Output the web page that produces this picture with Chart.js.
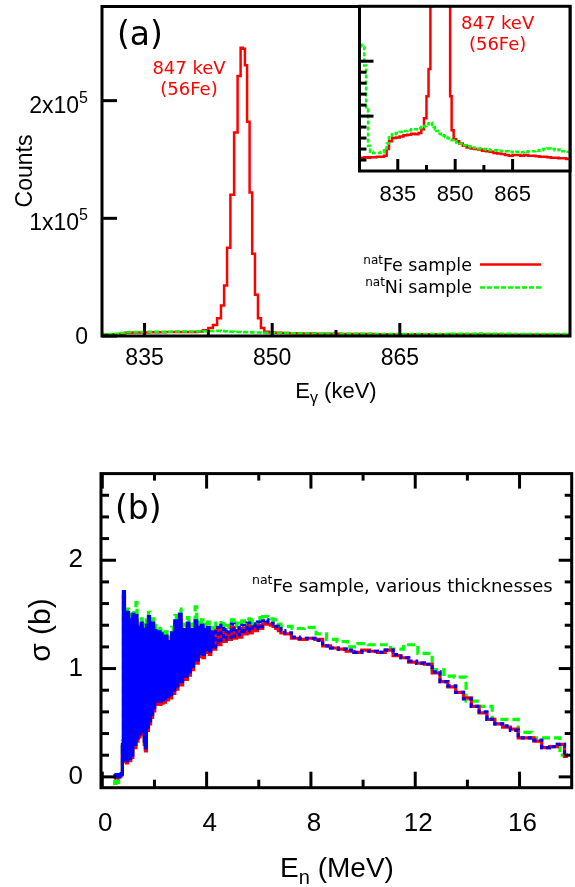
<!DOCTYPE html>
<html>
<head>
<meta charset="utf-8">
<script src="https://cdn.jsdelivr.net/npm/chart.js@4.4.1/dist/chart.umd.min.js"></script>
<style>
  html, body { margin: 0; padding: 0; background: #fff; }
  #wrap { position: relative; width: 575px; height: 887px; overflow: hidden; background: #fff; }
  canvas { position: absolute; }
  #specChart { left: 0; top: 0; }
  #insetChart { left: 340px; top: 0; }
  #xsChart { left: 0; top: 440px; }
</style>
</head>
<body>
<div id="wrap">
  <canvas id="specChart" width="575" height="430"></canvas>
  <canvas id="insetChart" width="235" height="215"></canvas>
  <canvas id="xsChart" width="575" height="447"></canvas>
</div>
<script>
//-------------
//- PANEL (a): gamma spectrum, counts per bin -
//-------------
var gammaEnergy = [
  825.1, 826.0, 826.5, 827.0, 827.5, 828.0, 829.0, 830.0, 831.0, 831.8,
  832.4, 833.0, 834.0, 835.0, 836.0, 837.0, 838.0, 839.0, 840.0, 840.8,
  841.5, 842.2, 842.8, 843.27, 843.78, 844.18, 844.52, 844.87, 845.31, 845.74,
  846.13, 846.45, 846.68, 846.91, 847.19, 847.50, 847.80, 848.15, 848.51, 848.85,
  849.3, 849.9, 850.6, 851.5, 852.5, 853.5, 854.5, 855.5, 856.5, 857.5,
  858.5, 859.5, 860.5, 861.5, 862.5, 863.5, 864.5, 865.5, 866.5, 867.5,
  868.5, 869.5, 870.5, 871.5, 872.5, 873.5, 874.5, 875.5, 876.5, 877.5,
  878.5, 879.5, 880.5, 881.5, 882.5, 883.5, 884.5, 885.5
];
var feCounts = [
  1150, 1200, 1250, 1250, 1200, 1250, 1250, 1300, 1300, 1400,
  2000, 2700, 3000, 3050, 3150, 3250, 3300, 3400, 3350, 3450,
  3800, 4800, 6800, 9300, 15000, 26000, 43000, 75000, 120000, 173000,
  221000, 245000, 244000, 230000, 182000, 122000, 70000, 35000, 15000, 6800,
  3700, 2900, 2700, 2500, 2300, 2150, 2050, 2000, 1950, 1850,
  1800, 1750, 1650, 1600, 1550, 1450, 1400, 1450, 1450, 1400,
  1450, 1400, 1400, 1350, 1300, 1300, 1250, 1200, 1200, 1150,
  1150, 1100, 1100, 1100, 1050, 1050, 1050, 1050
];
var niCounts = [
  11500, 11300, 9600, 5600, 2300, 1750, 1650, 1650, 1700, 1900,
  2500, 3200, 3350, 3450, 3550, 3650, 3700, 3800, 3800, 3900,
  4000, 4100, 4250, 4350, 4400, 4200, 4000, 3800, 3650, 3500,
  3400, 3350, 3300, 3250, 3200, 3100, 3050, 3000, 2950, 2850,
  2800, 2700, 2600, 2500, 2350, 2250, 2150, 2100, 2050, 2000,
  1950, 1900, 1900, 1850, 1800, 1800, 1750, 1700, 1750, 1700,
  1750, 1800, 1800, 1850, 1900, 2000, 2050, 2000, 1900, 1950,
  1800, 1750, 1700, 1700, 1650, 1650, 1600, 1600
];
var gammaMajor = [835, 850, 865];
var gammaMinor = [842.5, 857.5];
var countTicks = [0, 100000, 200000];
var countLabels = [['0', ''], ['1x10', '5'], ['2x10', '5']];
var insetMajor = [5000, 10000];
var insetMinor = [1000, 2000, 3000, 4000, 6000, 7000, 8000, 9000];

//-------------
//- PANEL (b): cross section, three thicknesses -
//-------------
var enFine = [
  0.45, 0.50, 0.55, 0.60, 0.65, 0.70, 0.75,
  0.79, 0.83, 0.87, 0.91, 0.95, 0.99, 1.03, 1.07, 1.11, 1.15,
  1.19, 1.23, 1.27, 1.31, 1.35, 1.39, 1.43, 1.47, 1.51, 1.55,
  1.59, 1.63, 1.67, 1.71, 1.75, 1.79, 1.83, 1.87, 1.91, 1.95,
  1.99, 2.03, 2.07, 2.11, 2.15, 2.19, 2.23, 2.27, 2.31, 2.35, 2.39,
  2.45, 2.51, 2.57, 2.63, 2.69, 2.75, 2.81, 2.87, 2.93, 2.99,
  3.05, 3.11, 3.17, 3.23, 3.29, 3.35, 3.41, 3.47, 3.53, 3.59,
  3.65, 3.71, 3.77, 3.83, 3.89, 3.95, 4.01, 4.07, 4.13, 4.19,
  4.3, 4.4, 4.5, 4.6, 4.7, 4.8, 4.9, 5.0, 5.1, 5.2,
  5.3, 5.4, 5.5, 5.6, 5.7, 5.8, 5.9, 6.0, 6.1, 6.2,
  6.3, 6.4, 6.5, 6.6, 6.7, 6.8, 6.9
];
var sigRedFine = [
  0.00, 0.01, -0.01, 0.02, 0.00, 0.01, 0.02,
  0.28, 1.66, 0.14, 1.45, 0.13, 1.48, 0.57, 0.15, 1.42, 0.18,
  1.46, 0.87, 0.27, 1.45, 0.33, 1.35, 0.37, 1.07, 1.38, 0.39,
  1.33, 0.30, 0.24, 1.37, 0.43, 1.44, 0.49, 1.35, 0.55, 1.38,
  0.61, 1.32, 0.67, 1.27, 0.69, 1.31, 0.67, 1.29, 0.68, 1.25, 0.69,
  1.27, 0.71, 1.22, 0.73, 1.30, 0.77, 1.41, 0.81, 1.35, 1.47,
  0.85, 1.33, 1.02, 0.90, 1.39, 0.94, 1.33, 0.99, 1.27, 1.41,
  1.05, 1.35, 1.11, 1.37, 1.10, 1.33, 1.15, 1.35, 1.13, 1.31,
  1.18, 1.35, 1.22, 1.37, 1.25, 1.33, 1.27, 1.38, 1.28, 1.35,
  1.29, 1.37, 1.32, 1.39, 1.33, 1.38, 1.35, 1.40, 1.37, 1.41,
  1.42, 1.41, 1.40, 1.39, 1.37, 1.35, 1.33
];
var sigBlueFine = [
  0.01, 0.00, 0.02, 0.01, 0.00, 0.02, 0.03,
  0.30, 1.71, 0.16, 1.48, 0.15, 1.52, 0.60, 0.17, 1.45, 0.20,
  1.50, 0.90, 0.30, 1.49, 0.36, 1.38, 0.40, 1.10, 1.42, 0.42,
  1.36, 0.33, 0.27, 1.40, 0.46, 1.48, 0.52, 1.38, 0.58, 1.42,
  0.64, 1.35, 0.70, 1.30, 0.72, 1.34, 0.70, 1.32, 0.71, 1.28, 0.72,
  1.30, 0.74, 1.25, 0.76, 1.33, 0.80, 1.44, 0.84, 1.38, 1.50,
  0.88, 1.36, 1.05, 0.93, 1.42, 0.97, 1.36, 1.02, 1.30, 1.44,
  1.08, 1.38, 1.14, 1.40, 1.13, 1.36, 1.18, 1.38, 1.16, 1.34,
  1.20, 1.38, 1.24, 1.40, 1.27, 1.36, 1.29, 1.41, 1.30, 1.38,
  1.31, 1.40, 1.34, 1.42, 1.35, 1.41, 1.37, 1.43, 1.39, 1.44,
  1.45, 1.43, 1.42, 1.41, 1.39, 1.37, 1.35
];
var sigGreenFine = [
  -0.03, -0.06, -0.02, -0.05, -0.01, 0.00, 0.02,
  0.33, 1.68, 0.19, 1.52, 0.18, 1.55, 0.64, 0.21, 1.50, 0.24,
  1.54, 0.95, 0.34, 1.61, 0.40, 1.43, 0.44, 1.15, 1.46, 0.46,
  1.41, 0.37, 0.30, 1.45, 0.50, 1.52, 0.56, 1.43, 0.62, 1.46,
  0.68, 1.40, 0.74, 1.35, 0.76, 1.39, 0.74, 1.37, 0.75, 1.33, 0.76,
  1.34, 0.78, 1.29, 0.80, 1.38, 0.84, 1.49, 0.88, 1.43, 1.55,
  0.92, 1.41, 1.10, 0.97, 1.47, 1.01, 1.41, 1.06, 1.35, 1.57,
  1.12, 1.43, 1.18, 1.45, 1.17, 1.41, 1.22, 1.43, 1.20, 1.38,
  1.24, 1.42, 1.28, 1.44, 1.31, 1.40, 1.33, 1.45, 1.34, 1.42,
  1.35, 1.44, 1.38, 1.46, 1.39, 1.45, 1.41, 1.47, 1.43, 1.48,
  1.48, 1.47, 1.46, 1.45, 1.43, 1.41, 1.39
];
var enCoarse = [
  7.1, 7.4, 7.7, 8.0, 8.3, 8.6, 8.9, 9.2, 9.5, 9.8,
  10.1, 10.4, 10.7, 11.0, 11.3, 11.6, 11.9, 12.2, 12.5, 12.8,
  13.1, 13.4, 13.7, 14.0, 14.3, 14.6, 14.9, 15.2, 15.5, 15.8,
  16.1, 16.4, 16.7, 17.0, 17.3, 17.6, 17.85
];
var sigRedCoarse = [
  1.32, 1.28, 1.27, 1.28, 1.27, 1.21, 1.19, 1.18, 1.16, 1.15,
  1.17, 1.16, 1.15, 1.17, 1.12, 1.10, 1.06, 1.05, 1.04, 0.96,
  0.88, 0.83, 0.78, 0.73, 0.65, 0.59, 0.53, 0.49, 0.46, 0.44,
  0.36, 0.36, 0.33, 0.27, 0.28, 0.30, 0.19
];
var sigBlueCoarse = [
  1.33, 1.29, 1.28, 1.28, 1.26, 1.21, 1.19, 1.18, 1.17, 1.15,
  1.16, 1.16, 1.15, 1.17, 1.13, 1.10, 1.07, 1.05, 1.04, 0.97,
  0.88, 0.84, 0.78, 0.72, 0.65, 0.60, 0.53, 0.49, 0.47, 0.43,
  0.36, 0.36, 0.34, 0.27, 0.28, 0.30, 0.20
];
var enGreenCoarse = [
  7.05, 7.5, 8.0, 8.4, 8.8, 9.2, 9.6, 10.0, 10.4, 10.8,
  11.3, 11.8, 12.4, 12.9, 13.3, 13.7, 14.2, 14.7, 15.2, 15.7,
  16.2, 16.7, 17.3, 17.8
];
var sigGreenCoarse = [
  1.39, 1.37, 1.38, 1.32, 1.27, 1.25, 1.20, 1.23, 1.22, 1.22,
  1.18, 1.22, 1.14, 0.99, 0.93, 0.92, 0.70, 0.65, 0.53, 0.53,
  0.41, 0.36, 0.36, 0.20
];
var energyMajor = [0, 4, 8, 12, 16];
var energyMinor = [2, 6, 10, 14];
var sigmaMajor = [0, 1, 2];
var sigmaMinor = [0.2, 0.4, 0.6, 0.8, 1.2, 1.4, 1.6, 1.8, 2.2, 2.4, 2.6];

Chart.defaults.font.family = "'Liberation Sans', Arial, sans-serif";
Chart.defaults.color = '#000';

function pts(xs, ys) {
  return xs.map(function(x, i) { return { x: x, y: ys[i] }; });
}

function tickList(vals) {
  return vals.map(function(v) { return { value: v }; });
}

// text with sub/superscript pieces, drawn on the chart canvas
function richText(ctx, segs, x, y, align, family, color, rot) {
  ctx.save();
  ctx.fillStyle = color || '#000';
  ctx.textBaseline = 'alphabetic';
  ctx.textAlign = 'left';
  var total = 0;
  segs.forEach(function(s) {
    ctx.font = s.size + 'px ' + family;
    s.w = ctx.measureText(s.t).width;
    total += s.w;
  });
  ctx.translate(x, y);
  if (rot) ctx.rotate(-Math.PI / 2);
  var cx = align === 'right' ? -total : (align === 'center' ? -total / 2 : 0);
  segs.forEach(function(s) {
    ctx.font = s.size + 'px ' + family;
    ctx.fillText(s.t, cx, s.dy || 0);
    cx += s.w;
  });
  ctx.restore();
}

var SANS = "'Liberation Sans', Arial, sans-serif";
var DEJA = "'DejaVu Sans', sans-serif";

// frame box + inward tick marks
function framePlugin(marks, width, fill) {
  return {
    id: 'frameTicks',
    beforeDatasetsDraw: function(chart) {
      if (!fill) return;
      var a = chart.chartArea, ctx = chart.ctx;
      ctx.save();
      ctx.fillStyle = fill;
      ctx.fillRect(a.left, a.top, a.right - a.left, a.bottom - a.top);
      ctx.restore();
    },
    afterDatasetsDraw: function(chart) {
      var a = chart.chartArea, ctx = chart.ctx;
      ctx.save();
      ctx.strokeStyle = '#000';
      ctx.lineWidth = width;
      marks.forEach(function(m) {
        var sc = chart.scales[m.axis];
        m.values.forEach(function(v) {
          var p = sc.getPixelForValue(v);
          ctx.beginPath();
          if (m.side === 'bottom') { ctx.moveTo(p, a.bottom); ctx.lineTo(p, a.bottom - m.len); }
          if (m.side === 'top') { ctx.moveTo(p, a.top); ctx.lineTo(p, a.top + m.len); }
          if (m.side === 'left') { ctx.moveTo(a.left, p); ctx.lineTo(a.left + m.len, p); }
          if (m.side === 'right') { ctx.moveTo(a.right, p); ctx.lineTo(a.right - m.len, p); }
          ctx.stroke();
        });
      });
      ctx.strokeRect(a.left, a.top, a.right - a.left, a.bottom - a.top);
      ctx.restore();
    }
  };
}

function stepLine(data, color, width, dash, order) {
  return {
    data: data,
    borderColor: color,
    borderWidth: width,
    borderDash: dash,
    borderJoinStyle: 'miter',
    stepped: 'middle',
    pointRadius: 0,
    fill: false,
    order: order
  };
}

var hiddenGrid = { display: false, drawTicks: false };

//-------------
//- (a) main spectrum -
//-------------
new Chart(document.getElementById('specChart'), {
  type: 'line',
  data: {
    datasets: [
      stepLine(pts(gammaEnergy, niCounts), '#00ff00', 2.5, [5, 2], 0),
      stepLine(pts(gammaEnergy, feCounts), '#ff0000', 2.5, [], 1)
    ]
  },
  options: {
    responsive: false, animation: false, events: [], devicePixelRatio: 1,
    layout: { padding: { top: 6.5, right: 5, left: 0, bottom: 0 } },
    plugins: { legend: { display: false }, tooltip: { enabled: false } },
    scales: {
      x: {
        type: 'linear', min: 830, max: 885,
        afterBuildTicks: function(s) { s.ticks = tickList(gammaMajor); },
        afterFit: function(s) { s.height = 94; },
        grid: hiddenGrid, border: { display: false },
        ticks: { autoSkip: false, maxRotation: 0, padding: 9, font: { size: 23 } }
      },
      y: {
        type: 'linear', min: 0, max: 280000,
        afterFit: function(s) { s.width = 102; },
        grid: hiddenGrid, border: { display: false },
        ticks: { display: false }
      }
    }
  },
  plugins: [
    framePlugin([
      { axis: 'x', side: 'bottom', values: gammaMajor, len: 13 },
      { axis: 'x', side: 'bottom', values: gammaMinor, len: 6 },
      { axis: 'y', side: 'left', values: countTicks, len: 15 }
    ], 3),
    {
      id: 'specText',
      afterDraw: function(chart) {
        var ctx = chart.ctx;
        // y tick labels with powers of ten
        countTicks.forEach(function(v, i) {
          var p = chart.scales.y.getPixelForValue(v);
          var lab = countLabels[i];
          var base = lab[1] ? p + 12 : p + 8.2;
          richText(ctx, [{ t: lab[0], size: 23 }, { t: lab[1], size: 16, dy: -10 }], 88, base, 'right', SANS);
        });
        richText(ctx, [{ t: 'Counts', size: 23 }], 31.5, 171, 'center', SANS, '#000', true);
        richText(ctx, [{ t: 'E', size: 22 }, { t: '\u03b3', size: 16, dy: 5 }, { t: ' (keV)', size: 22 }], 336, 398, 'center', SANS);
        richText(ctx, [{ t: '(a)', size: 33 }], 117, 45, 'left', DEJA);
        richText(ctx, [{ t: '847 keV', size: 18 }], 189, 74, 'center', DEJA, '#ff0000');
        richText(ctx, [{ t: '(56Fe)', size: 18 }], 189, 95, 'center', DEJA, '#ff0000');
        // legend
        richText(ctx, [{ t: 'nat', size: 12, dy: -7 }, { t: 'Fe sample', size: 17.5 }], 472, 271, 'right', DEJA);
        richText(ctx, [{ t: 'nat', size: 12, dy: -7 }, { t: 'Ni sample', size: 17.5 }], 472, 293, 'right', DEJA);
        ctx.save();
        ctx.lineWidth = 2.5;
        ctx.strokeStyle = '#ff0000';
        ctx.beginPath(); ctx.moveTo(480, 264.5); ctx.lineTo(541, 264.5); ctx.stroke();
        ctx.strokeStyle = '#00ff00';
        ctx.setLineDash([5, 2]);
        ctx.beginPath(); ctx.moveTo(480, 287.5); ctx.lineTo(541, 287.5); ctx.stroke();
        ctx.restore();
      }
    }
  ]
});

//-------------
//- (a) inset, zoomed counts -
//-------------
new Chart(document.getElementById('insetChart'), {
  type: 'line',
  data: {
    datasets: [
      stepLine(pts(gammaEnergy, niCounts), '#00ff00', 2.5, [4, 2], 0),
      stepLine(pts(gammaEnergy, feCounts), '#ff0000', 2.5, [], 1)
    ]
  },
  options: {
    responsive: false, animation: false, events: [], devicePixelRatio: 1,
    layout: { padding: { top: 6.3, right: 5, left: 19.5, bottom: 0 } },
    plugins: { legend: { display: false }, tooltip: { enabled: false } },
    scales: {
      x: {
        type: 'linear', min: 825, max: 880,
        afterBuildTicks: function(s) { s.ticks = tickList(gammaMajor); },
        afterFit: function(s) { s.height = 44; },
        grid: hiddenGrid, border: { display: false },
        ticks: { autoSkip: false, maxRotation: 0, padding: 11, font: { size: 22 } }
      },
      y: { type: 'linear', display: false, min: 0, max: 15000 }
    }
  },
  plugins: [
    framePlugin([
      { axis: 'x', side: 'bottom', values: gammaMajor, len: 12 },
      { axis: 'x', side: 'bottom', values: gammaMinor, len: 6 },
      { axis: 'y', side: 'left', values: insetMajor, len: 14 },
      { axis: 'y', side: 'left', values: insetMinor, len: 7 }
    ], 3, '#ffffff'),
    {
      id: 'insetText',
      afterDraw: function(chart) {
        richText(chart.ctx, [{ t: '847 keV', size: 18 }], 157.6, 28.5, 'center', DEJA, '#ff0000');
        richText(chart.ctx, [{ t: '(56Fe)', size: 18 }], 157.6, 50, 'center', DEJA, '#ff0000');
      }
    }
  ]
});

//-------------
//- (b) cross section -
//-------------
var blueSet = stepLine(pts(enFine, sigBlueFine).concat(pts(enCoarse, sigBlueCoarse)), '#0000ff', 3.2, [4, 3], 0);
// the resonance region is so dense that the dashes merge into a solid band
blueSet.segment = {
  borderDash: function(c) { return c.p0.parsed.x < 4.25 ? [] : [4, 3]; }
};

new Chart(document.getElementById('xsChart'), {
  type: 'line',
  data: {
    datasets: [
      blueSet,
      stepLine(pts(enFine, sigRedFine).concat(pts(enCoarse, sigRedCoarse)), '#ff0000', 3.2, [], 1),
      stepLine(pts(enFine, sigGreenFine).concat(pts(enGreenCoarse, sigGreenCoarse)), '#00ff00', 3.2, [8, 4], 2)
    ]
  },
  options: {
    responsive: false, animation: false, events: [], devicePixelRatio: 1,
    layout: { padding: { top: 32.7, right: 3.3, left: 0, bottom: 0 } },
    plugins: { legend: { display: false }, tooltip: { enabled: false } },
    scales: {
      x: {
        type: 'linear', min: -0.05, max: 18,
        afterBuildTicks: function(s) { s.ticks = tickList(energyMajor); },
        afterFit: function(s) { s.height = 99.3; },
        grid: hiddenGrid, border: { display: false },
        ticks: { autoSkip: false, maxRotation: 0, padding: 21, labelOffset: 3, font: { size: 26 } }
      },
      y: {
        type: 'linear', min: -0.1, max: 2.8,
        afterBuildTicks: function(s) { s.ticks = tickList(sigmaMajor); },
        afterFit: function(s) { s.width = 101; },
        grid: hiddenGrid, border: { display: false },
        ticks: { autoSkip: false, padding: 18, font: { size: 26 } }
      }
    }
  },
  plugins: [
    framePlugin([
      { axis: 'x', side: 'bottom', values: energyMajor, len: 16 },
      { axis: 'x', side: 'bottom', values: energyMinor, len: 8 },
      { axis: 'x', side: 'top', values: energyMajor, len: 15 },
      { axis: 'x', side: 'top', values: energyMinor, len: 7 },
      { axis: 'y', side: 'left', values: sigmaMajor, len: 15 },
      { axis: 'y', side: 'left', values: sigmaMinor, len: 8 },
      { axis: 'y', side: 'right', values: sigmaMajor, len: 13 },
      { axis: 'y', side: 'right', values: sigmaMinor, len: 7 }
    ], 3),
    {
      id: 'xsText',
      afterDraw: function(chart) {
        var ctx = chart.ctx;
        richText(ctx, [{ t: '(b)', size: 33 }], 115, 79.3, 'left', DEJA);
        richText(ctx, [{ t: 'nat', size: 12.5, dy: -8 }, { t: 'Fe sample, various thicknesses', size: 18 }], 252, 151.5, 'left', DEJA);
        richText(ctx, [{ t: '\u03c3 (b)', size: 30 }], 50, 190, 'center', SANS, '#000', true);
        richText(ctx, [{ t: 'E', size: 28 }, { t: 'n', size: 20, dy: 7 }, { t: ' (MeV)', size: 28 }], 337, 436.5, 'center', SANS);
      }
    }
  ]
});
</script>
</body>
</html>
